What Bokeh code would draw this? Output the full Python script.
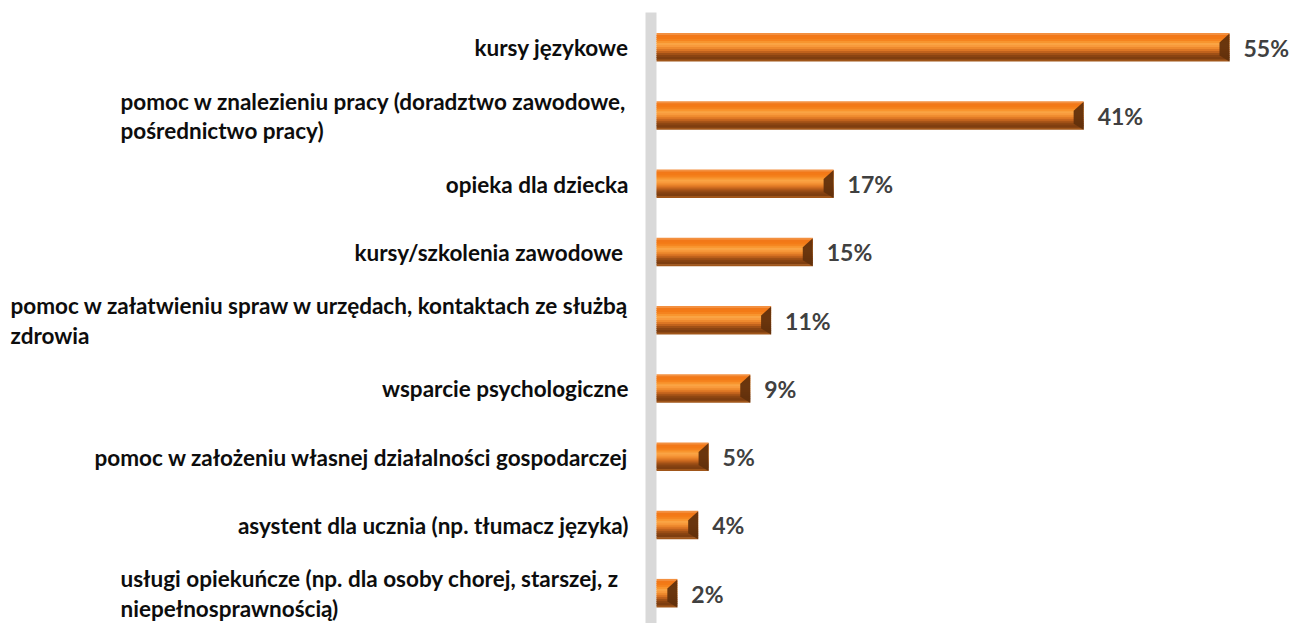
from bokeh.plotting import figure
from bokeh.models import Range1d, BoxAnnotation, ColumnDataSource
from bokeh.core.properties import value
from bokeh.embed import file_html
from bokeh.resources import INLINE

# ---------------- data ----------------
categories = [
    "kursy językowe",
    "pomoc w znalezieniu pracy (doradztwo zawodowe,\npośrednictwo pracy)",
    "opieka dla dziecka",
    "kursy/szkolenia zawodowe ",
    "pomoc w załatwieniu spraw w urzędach, kontaktach ze służbą\nzdrowia",
    "wsparcie psychologiczne",
    "pomoc w założeniu własnej działalności gospodarczej",
    "asystent dla ucznia (np. tłumacz języka)",
    "usługi opiekuńcze (np. dla osoby chorej, starszej, z\nniepełnosprawnością)",
]
values = [55, 41, 17, 15, 11, 9, 5, 4, 2]
value_labels = [f"{v}%" for v in values]

# ---------------- layout ----------------
W, H = 1294, 623
ROW_PX = 68.25          # distance between rows, px
TOP_PX = 47             # centre of first row from top of canvas
ORIGIN_PX = 656         # x of value 0 in canvas px
PX_PER_UNIT = 10.418    # px per percentage point
BAR_PX = 28
AXIS_PX = 11
AXIS_TOP_PX = 12
LABEL_GAP_PX = 28
# left edge (px from origin) used for the wrapped, left-aligned labels
WRAP_LEFT_PX = [None, -536, None, None, -646, None, None, None, -536]

n = len(values)
rows = list(range(n))
x_range = Range1d(-ORIGIN_PX / PX_PER_UNIT, (W - ORIGIN_PX) / PX_PER_UNIT)
y_range = Range1d((H - TOP_PX) / ROW_PX, -TOP_PX / ROW_PX)

p = figure(width=W, height=H, x_range=x_range, y_range=y_range,
           output_backend="svg", toolbar_location=None,
           min_border=0, outline_line_color=None)
p.axis.visible = False
p.grid.visible = False
p.background_fill_color = "white"
p.border_fill_color = "white"

# grey vertical axis band
p.add_layout(BoxAnnotation(left=-AXIS_PX / PX_PER_UNIT, right=0,
                           top=(AXIS_TOP_PX - TOP_PX) / ROW_PX,
                           fill_color="#D9D9D9", fill_alpha=1,
                           line_color=None, level="underlay"))

# bars: stacked horizontal slices to imitate the bevel gradient
slice_colors = ["#F39040", "#F27818", "#F37A16", "#F5831E", "#F8952E",
                "#FAA444", "#F89A3C", "#EE8A2E", "#DC7624", "#C0621C",
                "#A05016", "#8A4412", "#7E3E10", "#A0561A"]
bar_h = BAR_PX / ROW_PX
sh = bar_h / len(slice_colors)
for k, c in enumerate(slice_colors):
    ys = [r - bar_h / 2 + (k + 0.5) * sh for r in rows]
    p.hbar(y=ys, left=0, right=values, height=sh * 1.6 if k < len(slice_colors) - 1 else sh,
           fill_color=c, line_color=None)

# right bevel face
bw_full = 10 / PX_PER_UNIT
bt = 9 / ROW_PX
bb = 6 / ROW_PX
xs, ys = [], []
for r, v in zip(rows, values):
    bw = min(bw_full, v * 0.5)
    xs.append([v, v, v - bw, v - bw])
    ys.append([r - bar_h / 2, r + bar_h / 2, r + bar_h / 2 - bb, r - bar_h / 2 + bt])
p.patches(xs=xs, ys=ys, fill_color="#62300C", line_color=None, fill_alpha=0.95)

# category labels
single = [i for i in rows if WRAP_LEFT_PX[i] is None]
wrapped = [i for i in rows if WRAP_LEFT_PX[i] is not None]
font = value("Lato")
src1 = ColumnDataSource(dict(y=single, x=[0] * len(single),
                             t=[categories[i] for i in single]))
p.text(x="x", y="y", text="t", source=src1, x_offset=-LABEL_GAP_PX,
       text_align="right", text_baseline="middle",
       text_font=font, text_font_style="bold", text_font_size="22.5px",
       text_color="#0D0D0D")
src2 = ColumnDataSource(dict(y=wrapped, x=[0] * len(wrapped),
                             t=[categories[i] for i in wrapped],
                             off=[WRAP_LEFT_PX[i] for i in wrapped]))
p.text(x="x", y="y", text="t", source=src2, x_offset="off",
       text_align="left", text_baseline="middle",
       text_font=font, text_font_style="bold", text_font_size="22.5px",
       text_color="#0D0D0D", text_line_height=1.08)

# value labels
vsrc = ColumnDataSource(dict(y=rows, x=values, t=value_labels))
p.text(x="x", y="y", text="t", source=vsrc, x_offset=14,
       text_align="left", text_baseline="middle",
       text_font=font, text_font_style="bold", text_font_size="23px",
       text_color="#404040")

open("out.html", "w").write(file_html(p, INLINE))
